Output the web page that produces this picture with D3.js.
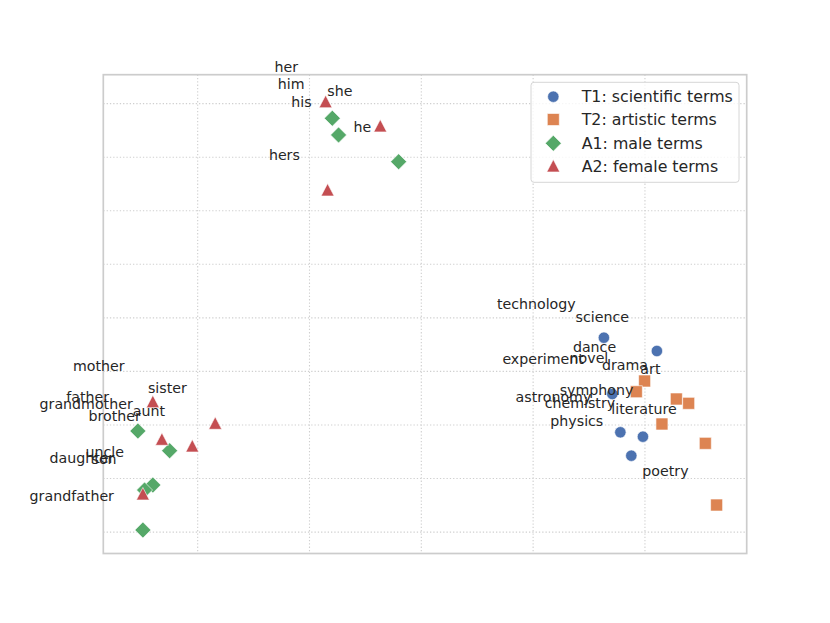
<!DOCTYPE html>
<html>
<head>
<meta charset="utf-8">
<script src="https://cdn.jsdelivr.net/npm/d3@7"></script>
<style>
  html, body { margin: 0; padding: 0; background: #ffffff; }
  text { font-family: "DejaVu Sans", sans-serif; fill: #262626; }
</style>
</head>
<body>
<svg id="chart" width="830" height="623"></svg>
<script>
// ---- data (2-D projection coordinates) ----
const seriesNames = ["T1: scientific terms", "T2: artistic terms", "A1: male terms", "A2: female terms"];

const scienceX = [1.633, 2.107, 1.708, 1.780, 1.982, 1.878];
const scienceY = [-0.371, -0.619, -1.422, -2.137, -2.219, -2.574];

const artX = [1.997, 1.923, 2.281, 2.391, 2.152, 2.540, 2.641];
const artY = [-1.179, -1.379, -1.515, -1.596, -1.982, -2.343, -3.495];

const maleX = [-0.796, -0.740, -0.203, -2.535, -2.251, -2.401, -2.475, -2.490];
const maleY = [3.726, 3.415, 2.916, -2.113, -2.481, -3.121, -3.215, -3.962];

const femaleX = [-0.856, -0.367, -0.838, -2.401, -1.843, -2.320, -2.048, -2.490];
const femaleY = [4.036, 3.583, 2.387, -1.566, -1.969, -2.268, -2.393, -3.289];

// word labels and where they sit in the same coordinate system
const labelWords = ["her", "him", "his", "she", "he", "hers",
  "technology", "science", "dance", "experiment", "novel", "drama", "art",
  "symphony", "astronomy", "chemistry", "literature", "physics", "poetry",
  "mother", "sister", "father", "grandmother", "aunt", "brother",
  "uncle", "son", "daughter", "grandfather"];
const labelX = [-1.312, -1.283, -1.163, -0.841, -0.606, -1.363,
  0.676, 1.380, 1.356, 0.725, 1.326, 1.615, 1.959,
  1.237, 0.843, 1.103, 1.699, 1.154, 1.977,
  -3.116, -2.445, -3.175, -3.414, -2.580, -2.976,
  -3.003, -2.949, -3.325, -3.503];
const labelY = [4.690, 4.367, 4.036, 4.236, 3.558, 3.041,
  0.259, 0.021, -0.539, -0.774, -0.744, -0.880, -0.961,
  -1.347, -1.484, -1.584, -1.702, -1.926, -2.860,
  -0.899, -1.316, -1.472, -1.614, -1.734, -1.833,
  -2.500, -2.627, -2.623, -3.327];

const gridX = [-2, -1, 0, 1, 2];
const gridY = [-4, -3, -2, -1, 0, 1, 2, 3, 4];

// ---- layout ----
const svg = d3.select("#chart");
const pLeft = 103.3, pRight = 746.7, pTop = 74.7, pBottom = 553.5;
const x = d3.scaleLinear().domain([-2.844, 2.91]).range([pLeft, pRight]);
const y = d3.scaleLinear().domain([-4.40, 4.54]).range([pBottom, pTop]);

const colors = ["#4C72B0", "#DD8452", "#55A868", "#C44E52"];

// custom marker shapes (matplotlib-like)
const diamondSym = { draw(ctx, size) { const r = Math.sqrt(size) / 2;
  ctx.moveTo(0, -r); ctx.lineTo(r, 0); ctx.lineTo(0, r); ctx.lineTo(-r, 0); ctx.closePath(); } };
const triSym = { draw(ctx, size) { const r = Math.sqrt(size) / 2;
  ctx.moveTo(0, -r); ctx.lineTo(r, r * 0.92); ctx.lineTo(-r, r * 0.92); ctx.closePath(); } };
const symbols = [
  d3.symbol().type(d3.symbolCircle).size(Math.PI * 5.7 * 5.7),
  d3.symbol().type(d3.symbolSquare).size(12 * 12),
  d3.symbol().type(diamondSym).size(16 * 16),
  d3.symbol().type(triSym).size(13 * 13)
];

// grid
const g = svg.append("g");
g.selectAll("line.gx").data(gridX).join("line")
  .attr("x1", d => x(d)).attr("x2", d => x(d))
  .attr("y1", pTop).attr("y2", pBottom)
  .attr("stroke", "#cfcfcf").attr("stroke-width", 1.1).attr("stroke-dasharray", "1.3,2");
g.selectAll("line.gy").data(gridY).join("line")
  .attr("y1", d => y(d)).attr("y2", d => y(d))
  .attr("x1", pLeft).attr("x2", pRight)
  .attr("stroke", "#cfcfcf").attr("stroke-width", 1.1).attr("stroke-dasharray", "1.3,2");

// frame
svg.append("rect").attr("x", pLeft).attr("y", pTop)
  .attr("width", pRight - pLeft).attr("height", pBottom - pTop)
  .attr("fill", "none").attr("stroke", "#cccccc").attr("stroke-width", 1.7);

// points
const series = [
  d3.zip(scienceX, scienceY),
  d3.zip(artX, artY),
  d3.zip(maleX, maleY),
  d3.zip(femaleX, femaleY)
];
series.forEach((pts, i) => {
  svg.append("g").selectAll("path").data(pts).join("path")
    .attr("d", symbols[i])
    .attr("transform", d => `translate(${x(d[0])},${y(d[1])})`)
    .attr("fill", colors[i])
    .attr("stroke", "#ffffff").attr("stroke-width", 0.6);
});

// labels
svg.append("g").selectAll("text").data(d3.range(labelWords.length)).join("text")
  .attr("x", i => x(labelX[i])).attr("y", i => y(labelY[i]))
  .attr("dominant-baseline", "central")
  .attr("font-size", "14.2px")
  .text(i => labelWords[i]);

// legend
const lg = svg.append("g");
lg.append("rect").attr("x", 531).attr("y", 82.3).attr("width", 208).attr("height", 100)
  .attr("rx", 3).attr("fill", "#ffffff").attr("fill-opacity", 0.8)
  .attr("stroke", "#d6d6d6").attr("stroke-width", 1);
const legY = [96.7, 119.5, 143.3, 166];
seriesNames.forEach((name, i) => {
  lg.append("path").attr("d", symbols[i])
    .attr("transform", `translate(553.3,${legY[i]})`)
    .attr("fill", colors[i]).attr("stroke", "#ffffff").attr("stroke-width", 0.6);
  lg.append("text").attr("x", 581.7).attr("y", legY[i])
    .attr("dominant-baseline", "central").attr("font-size", "15.8px").text(name);
});
</script>
</body>
</html>
